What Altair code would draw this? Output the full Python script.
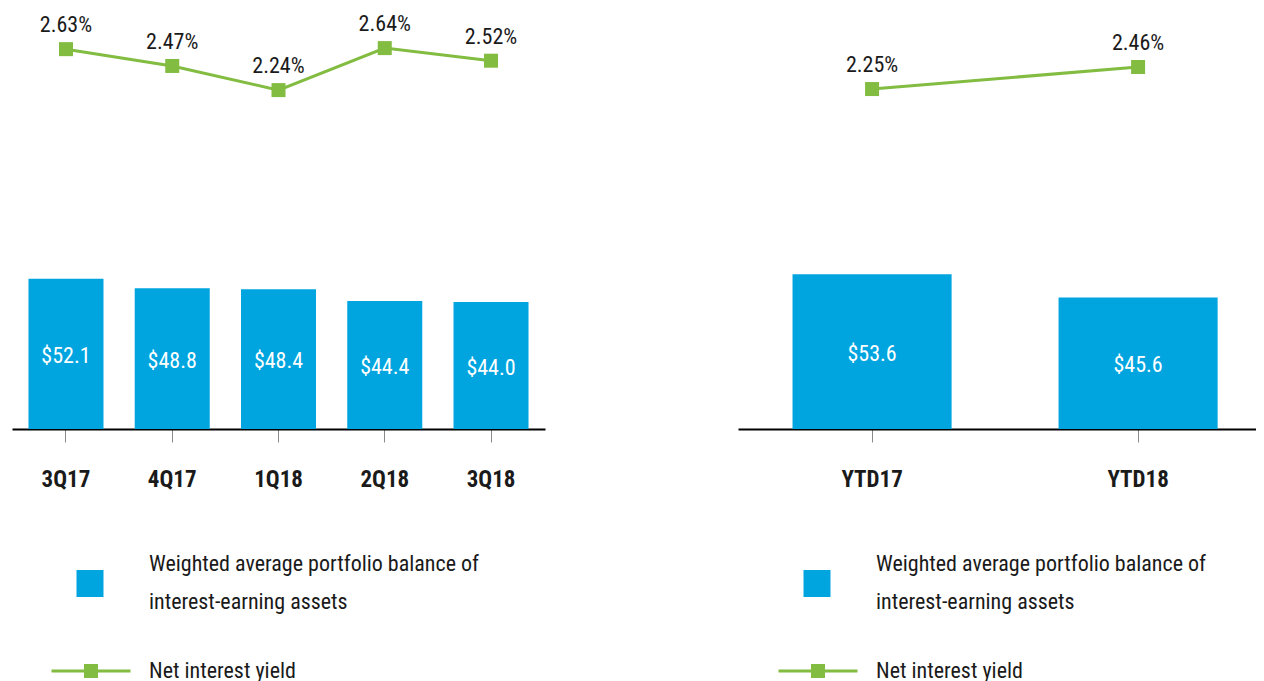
import altair as alt
import pandas as pd

# ---- data ----
quarters = ["3Q17", "4Q17", "1Q18", "2Q18", "3Q18"]
balance_q = [52.1, 48.8, 48.4, 44.4, 44.0]
yield_q = [2.63, 2.47, 2.24, 2.64, 2.52]

ytd_periods = ["YTD17", "YTD18"]
balance_ytd = [53.6, 45.6]
yield_ytd = [2.25, 2.46]

legend_bar_lines = ["Weighted average portfolio balance of", "interest-earning assets"]
legend_line_label = "Net interest yield"

BLUE = "#00a5e0"
GREEN = "#82bc41"
TEXT = "#1a1a1a"
FONT = "Liberation Sans Narrow, Arial Narrow, Roboto Condensed, DejaVu Sans Condensed, sans-serif"

H = 421
BAR_DOMAIN = [0, 145.9]
LINE_DOMAIN = [-0.988, 3.022]


def legend_common():
    return dict(
        title=None, orient="none", labelFont=FONT, labelFontSize=22,
        labelColor=TEXT, labelLimit=600, padding=0,
    )


def panel(periods, bal, yld, width, x_scale, dx):
    df = pd.DataFrame({
        "period": periods,
        "balance": bal,
        "yield": yld,
        "bseries": legend_bar_lines[0],
        "bseries2": legend_bar_lines[1],
        "lseries": legend_line_label,
    })
    xaxis = alt.Axis(
        title=None, labelAngle=0, labelFont=FONT, labelFontSize=23,
        labelFontWeight="bold", labelColor=TEXT, labelPadding=26,
        domainColor="#000000", domainWidth=2, tickColor="#8a8a8a",
        tickWidth=1, tickSize=13, grid=False,
    )
    base = alt.Chart(df).encode(
        x=alt.X("period:N", sort=periods, scale=x_scale, axis=xaxis)
    )
    ybar = alt.Scale(domain=BAR_DOMAIN, nice=False, zero=True)
    yline = alt.Scale(domain=LINE_DOMAIN, nice=False, zero=False)

    bars = base.mark_bar().encode(
        y=alt.Y("balance:Q", scale=ybar, axis=None),
        color=alt.Color(
            "bseries:N",
            scale=alt.Scale(domain=[legend_bar_lines[0]], range=[BLUE]),
            legend=alt.Legend(
                legendX=64.5 + dx, legendY=542.5,
                symbolType="M-1,0.444H1V2.444H-1Z",
                symbolSize=729, symbolStrokeWidth=0, labelOffset=45.5,
                **legend_common(),
            ),
        ),
    )
    # second line of the bar legend text, carried by an invisible stroke channel
    bar_text = base.transform_calculate(
        mid="datum.balance / 2",
        txt="'$' + format(datum.balance, '.1f')",
    ).mark_text(font=FONT, fontSize=22, color="white", baseline="middle",
                dy=2, strokeWidth=0).encode(
        y=alt.Y("mid:Q", scale=ybar, axis=None),
        text="txt:N",
        stroke=alt.Stroke(
            "bseries2:N",
            scale=alt.Scale(domain=[legend_bar_lines[1]], range=["transparent"]),
            legend=alt.Legend(
                legendX=64.5 + dx, legendY=580,
                symbolType="square", symbolSize=729, symbolOpacity=0,
                symbolStrokeWidth=0, labelOffset=45.5,
                **legend_common(),
            ),
        ),
    )
    line = base.mark_line(color=GREEN, strokeWidth=3).encode(
        y=alt.Y("yield:Q", scale=yline, axis=None)
    )
    squares = base.mark_square(size=196, opacity=1).encode(
        y=alt.Y("yield:Q", scale=yline, axis=None),
        fill=alt.Fill(
            "lseries:N",
            scale=alt.Scale(domain=[legend_line_label], range=[GREEN]),
            legend=alt.Legend(
                legendX=68 + dx, legendY=652,
                symbolType="M-5.643,-0.214H5.643V0.214H-5.643Z M-1,-1H1V1H-1Z",
                symbolSize=196, symbolStrokeWidth=0, labelOffset=47,
                **legend_common(),
            ),
        ),
    )
    line_text = base.transform_calculate(
        txt="format(datum.yield, '.2f') + '%'"
    ).mark_text(font=FONT, fontSize=22, color=TEXT, baseline="middle", dy=-24).encode(
        y=alt.Y("yield:Q", scale=yline, axis=None),
        text="txt:N",
    )
    return alt.layer(bars, bar_text, line, squares, line_text).resolve_scale(
        y="independent"
    ).properties(width=width, height=H)


left = panel(quarters, balance_q, yield_q, 533,
             alt.Scale(paddingInner=0.294, paddingOuter=0.155), 0)
right = panel(ytd_periods, balance_ytd, yield_ytd, 518,
              alt.Scale(paddingInner=0.402, paddingOuter=0.1746, align=0.587), 1)

chart = alt.hconcat(left, right, spacing=193).resolve_scale(
    color="independent", fill="independent", stroke="independent"
).resolve_legend(
    color="independent", fill="independent", stroke="independent"
).properties(
    padding={"left": 4, "top": 0, "right": 0, "bottom": 0},
    background="white",
).configure_view(stroke=None).configure_axis(grid=False)

chart.save("out.html", embed_options={"renderer": "svg", "actions": False})
